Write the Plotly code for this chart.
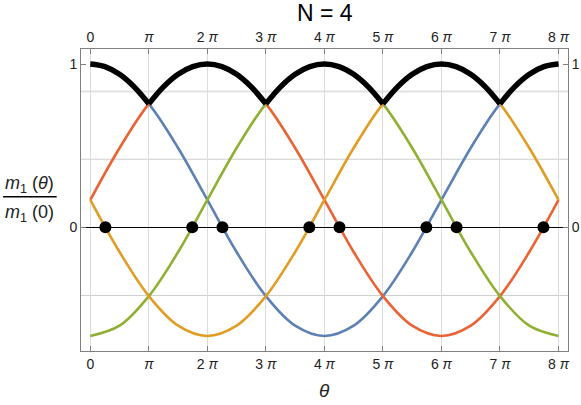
import numpy as np
import plotly.graph_objects as go

# curve samples, x in multiples of pi (step pi/2)
curve_x_pi = [k / 2 for k in range(17)]
blue_y = [1.000, 0.937, 0.756, 0.486, 0.168, -0.151, -0.421, -0.602, -0.665,
          -0.602, -0.421, -0.151, 0.168, 0.486, 0.756, 0.937, 1.000]
red_y = [0.168, 0.486, 0.756, 0.937, 1.000, 0.937, 0.756, 0.486, 0.168,
         -0.151, -0.421, -0.602, -0.665, -0.602, -0.421, -0.151, 0.168]
green_y = [-0.665, -0.602, -0.421, -0.151, 0.168, 0.486, 0.756, 0.937, 1.000,
           0.937, 0.756, 0.486, 0.168, -0.151, -0.421, -0.602, -0.665]
orange_y = [0.168, -0.151, -0.421, -0.602, -0.665, -0.602, -0.421, -0.151, 0.168,
            0.486, 0.756, 0.937, 1.000, 0.937, 0.756, 0.486, 0.168]

# upper envelope (step pi/4), kinks at odd multiples of pi
env_x_pi = [k / 4 for k in range(33)]
env_y = [1.000, 0.984, 0.937, 0.860, 0.756, 0.860, 0.937, 0.984] * 4 + [1.000]
env_breaks = [0, 4, 12, 20, 28, 32]

# zero crossings, in multiples of pi
zero_x_pi = [0.258, 1.742, 2.258, 3.742, 4.258, 5.742, 6.258, 7.742]

tick_pi = list(range(9))
tick_text = ["0", "<i>π</i>"] + [f"{k} <i>π</i>" for k in range(2, 9)]
grid_y = [0.832, 0.417, -0.417]

x_range = [-0.159 * np.pi, 8.162 * np.pi]
y_range = [-0.757, 1.092]

COLORS = {"blue": "#5E81B5", "orange": "#E19C24", "green": "#8FB032", "red": "#EB6235"}
FONT = "Liberation Sans, Arial, sans-serif"

fig = go.Figure()
cx = np.array(curve_x_pi) * np.pi
for name, ys in [("blue", blue_y), ("red", red_y), ("green", green_y), ("orange", orange_y)]:
    fig.add_trace(go.Scatter(
        x=cx, y=ys, mode="lines",
        line={"color": COLORS[name], "width": 2.6, "shape": "spline"},
        showlegend=False, hoverinfo="skip",
    ))

seg_x, seg_y = [], []
for a, b in zip(env_breaks[:-1], env_breaks[1:]):
    seg_x += [v * np.pi for v in env_x_pi[a:b + 1]] + [None]
    seg_y += env_y[a:b + 1] + [None]
fig.add_trace(go.Scatter(
    x=seg_x, y=seg_y, mode="lines",
    line={"color": "black", "width": 5.5, "shape": "spline"},
    showlegend=False, hoverinfo="skip",
))

fig.add_trace(go.Scatter(
    x=np.array(zero_x_pi) * np.pi, y=[0] * len(zero_x_pi), mode="markers",
    marker={"color": "black", "size": 12},
    showlegend=False, hoverinfo="skip",
))

# dummy trace so the mirrored top/right axes get drawn
fig.add_trace(go.Scatter(
    x=[0], y=[0], xaxis="x2", yaxis="y2", mode="markers",
    marker={"opacity": 0}, showlegend=False, hoverinfo="skip",
))

axis_common = dict(
    showline=True, linecolor="#808080", linewidth=1, automargin=False,
    ticks="inside", ticklen=5, tickcolor="#808080",
    tickfont={"family": FONT, "size": 14, "color": "#222"},
)
fig.update_layout(
    xaxis=dict(range=x_range, tickvals=[k * np.pi for k in tick_pi], ticktext=tick_text,
               showgrid=True, gridcolor="#dcdcdc", gridwidth=1, zeroline=False,
               **axis_common),
    xaxis2=dict(range=x_range, tickvals=[k * np.pi for k in tick_pi], ticktext=tick_text,
                overlaying="x", side="top", anchor="y", showgrid=False, zeroline=False,
                **axis_common),
    yaxis=dict(range=y_range, tickvals=[0, 1], ticktext=["0", "1"], showgrid=False,
               zeroline=True, zerolinecolor="black", zerolinewidth=1, **axis_common),
    yaxis2=dict(range=y_range, tickvals=[0, 1], ticktext=["0", "1"], overlaying="y",
                side="right", anchor="x", showgrid=False, zeroline=False, **axis_common),
    width=581, height=405,
    margin={"l": 81, "r": 13, "t": 49, "b": 54},
    plot_bgcolor="white", paper_bgcolor="white",
    shapes=[
        {"type": "line", "xref": "paper", "yref": "y", "x0": 0, "x1": 1, "y0": gy, "y1": gy,
         "line": {"color": "#e2e2e2" if gy > 0.6 else "#cfcfcf", "width": 2 if gy > 0.6 else 1},
         "layer": "below"}
        for gy in grid_y
    ] + [
        {"type": "line", "xref": "paper", "yref": "paper", "x0": -0.160, "x1": -0.050,
         "y0": 0.511, "y1": 0.511, "line": {"color": "black", "width": 1.5}},
    ],
    annotations=[
        {"xref": "paper", "yref": "paper", "x": 0.5, "y": 1, "yshift": 36,
         "xanchor": "center", "yanchor": "middle",
         "text": "N = 4", "showarrow": False, "font": {"family": FONT, "size": 23, "color": "black"}},
        {"xref": "paper", "yref": "paper", "x": 0.5, "y": 0, "yshift": -39,
         "xanchor": "center", "yanchor": "middle",
         "text": "<i>θ</i>", "showarrow": False, "font": {"family": FONT, "size": 19, "color": "#222"}},
        {"xref": "paper", "yref": "paper", "x": -0.105, "y": 0.511, "yshift": 12,
         "xanchor": "center", "yanchor": "middle",
         "text": "<i>m</i><sub>1</sub> (<i>θ</i>)", "showarrow": False,
         "font": {"family": FONT, "size": 18, "color": "#222"}},
        {"xref": "paper", "yref": "paper", "x": -0.105, "y": 0.511, "yshift": -17,
         "xanchor": "center", "yanchor": "middle",
         "text": "<i>m</i><sub>1</sub> (0)", "showarrow": False,
         "font": {"family": FONT, "size": 18, "color": "#222"}},
    ],
)

# drop the browser's default 8px body margin so the figure fills the window
fig.write_html(
    "out.html",
    config={"displayModeBar": False},
    post_script="document.body.style.margin = '0';",
)
